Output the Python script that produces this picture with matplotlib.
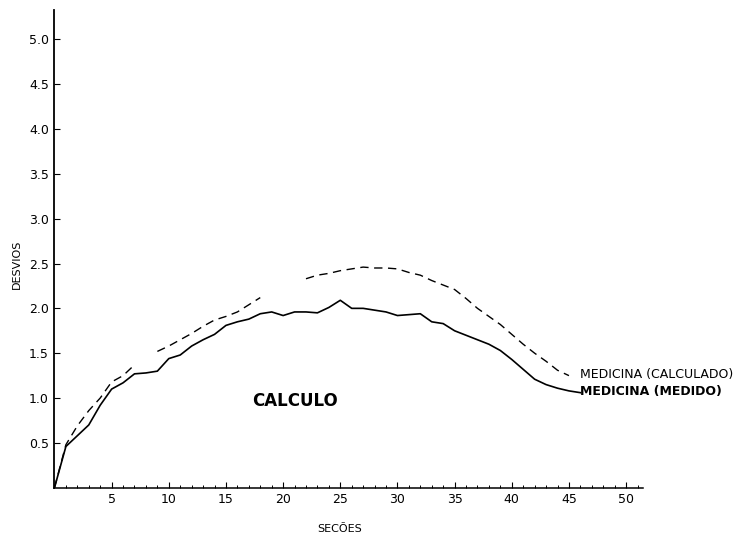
import numpy as np
import matplotlib
matplotlib.use("Agg")
import matplotlib.pyplot as plt
from matplotlib.ticker import MultipleLocator

# sections (secoes) and deviations
secoes = list(range(0, 47))

medido = [0.00, 0.46, 0.58, 0.70, 0.92, 1.10, 1.17, 1.27, 1.28, 1.30,
          1.44, 1.48, 1.58, 1.65, 1.71, 1.81, 1.85, 1.88, 1.94, 1.96,
          1.92, 1.96, 1.96, 1.95, 2.01, 2.09, 2.00, 2.00, 1.98, 1.96,
          1.92, 1.93, 1.94, 1.85, 1.83, 1.75, 1.70, 1.65, 1.60, 1.53,
          1.43, 1.32, 1.21, 1.15, 1.11, 1.08, 1.06]

# gaps in the dashed curve are where the print has faded out
calculado = [0.00, 0.48, 0.69, 0.86, 1.00, 1.18, 1.25, 1.37, np.nan, 1.52,
             1.58, 1.65, 1.72, 1.80, 1.87, 1.91, 1.96, 2.04, 2.12, np.nan,
             np.nan, np.nan, 2.33, 2.37, 2.39, 2.42, 2.44, 2.46, 2.45, 2.45,
             2.44, 2.40, 2.37, 2.31, 2.26, 2.21, 2.11, 2.00, 1.91, 1.82,
             1.71, 1.60, 1.50, 1.41, 1.31, 1.25, np.nan]

x_ticks = [5, 10, 15, 20, 25, 30, 35, 40, 45, 50]
y_ticks = [0.5, 1.0, 1.5, 2.0, 2.5, 3.0, 3.5, 4.0, 4.5, 5.0]

fig = plt.figure(figsize=(7.36, 5.36), dpi=100)
ax = fig.add_axes([0.074, 0.09, 0.80, 0.892])

ax.plot(secoes, medido, color="black", linewidth=1.2)
ax.plot(secoes, calculado, color="black", linewidth=1.0,
        linestyle=(0, (6, 4)))

ax.set_xlim(0, 51.5)
ax.set_ylim(0, 5.33)

ax.set_xticks(x_ticks)
ax.set_xticklabels([str(v) for v in x_ticks], fontsize=9)
ax.xaxis.set_minor_locator(MultipleLocator(1))
ax.set_yticks(y_ticks)
ax.set_yticklabels(["%.1f" % v for v in y_ticks], fontsize=9)

ax.tick_params(axis="both", which="major", direction="in", length=4,
               width=0.8, pad=4)
ax.tick_params(axis="x", which="minor", direction="in", length=2, width=0.7)

ax.spines["top"].set_visible(False)
ax.spines["right"].set_visible(False)
ax.spines["left"].set_linewidth(1.3)
ax.spines["bottom"].set_linewidth(1.1)

ax.set_xlabel("SECÕES", fontsize=8)
ax.xaxis.set_label_coords(0.485, -0.075)
ax.set_ylabel("DESVIOS", fontsize=8)
ax.yaxis.set_label_coords(-0.055, 0.467)

ax.text(21.0, 0.97, "CALCULO", fontsize=12, fontweight="bold",
        ha="center", va="center")
ax.text(46.0, 1.26, "MEDICINA (CALCULADO)", fontsize=9, va="center")
ax.text(46.0, 1.07, "MEDICINA (MEDIDO)", fontsize=9, fontweight="bold",
        va="center")

fig.savefig("out.png", dpi=100)
